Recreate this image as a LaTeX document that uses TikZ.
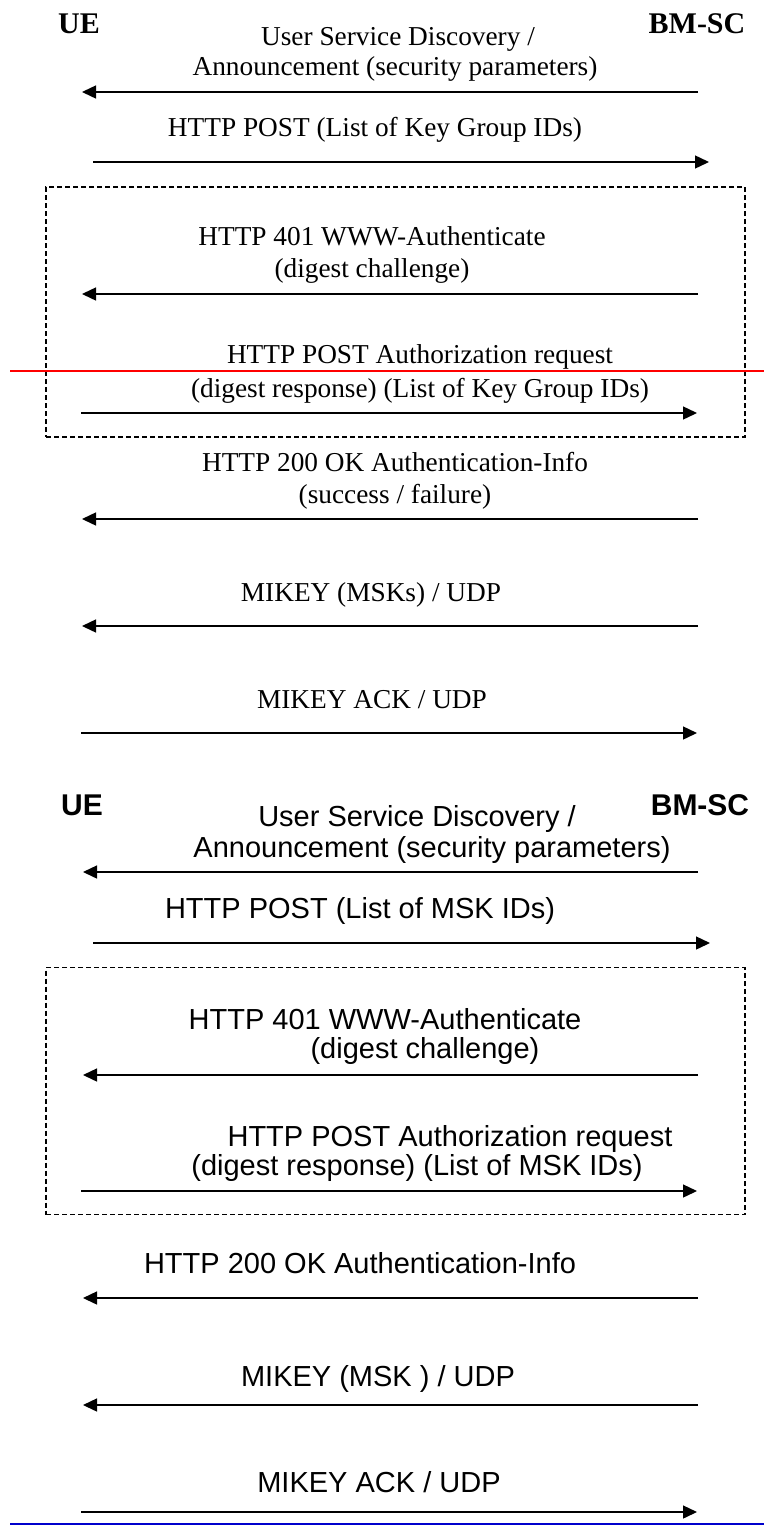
\documentclass[tikz,border=0pt]{standalone}
\usepackage{fontspec}
\setmainfont{Liberation Serif}
\newfontfamily\arialf{Liberation Sans}
\usetikzlibrary{arrows.meta}
\begin{document}
\begin{tikzpicture}[x=1pt,y=-1pt,
  msg/.style={line width=1.4pt,-{Triangle[length=14pt,width=13pt]}},
  serifl/.style={anchor=base,inner sep=0pt,font=\fontsize{27.3}{32}\selectfont},
  sansl/.style={anchor=base,inner sep=0pt,font=\arialf\fontsize{29}{34}\selectfont},
  serifh/.style={anchor=base,inner sep=0pt,font=\bfseries\fontsize{30}{34}\selectfont},
  sansh/.style={anchor=base,inner sep=0pt,font=\arialf\bfseries\fontsize{30}{34}\selectfont},
  grp/.style={draw,line width=1.4pt,dash pattern=on 5pt off 3pt,inner sep=0pt,minimum width=699pt},
  mark line/.style={line width=1.6pt}]
\useasboundingbox (0,0) rectangle (764,1526);

% ---------- top (serif) ----------
\node[serifh] (ue1) at (79,33) {UE};
\node[serifh] (bm1) at (697,33) {BM-SC};
\node[serifl] (t1a) at (398,45) {User Service Discovery /};
\node[serifl] (t1b) at (395,75) {Announcement (security parameters)};
\coordinate (a1s) at (698,92); \coordinate (a1e) at (82,92);
\draw[msg] (a1s) -- (a1e);
\node[serifl] (t2) at (375,136) {HTTP POST (List of Key Group IDs)};
\coordinate (a2s) at (93,162); \coordinate (a2e) at (709,162);
\draw[msg] (a2s) -- (a2e);
\node[grp,minimum height=250pt] (box1) at (395.5,312) {};
\node[serifl] (t3a) at (372,245) {HTTP 401 WWW-Authenticate};
\node[serifl] (t3b) at (372,277) {(digest challenge)};
\coordinate (a3s) at (698,294); \coordinate (a3e) at (82,294);
\draw[msg] (a3s) -- (a3e);
\node[serifl] (t4a) at (420,363) {HTTP POST Authorization request};
\node[serifl] (t4b) at (420,397) {(digest response) (List of Key Group IDs)};
\coordinate (a4s) at (81,413); \coordinate (a4e) at (697,413);
\draw[msg] (a4s) -- (a4e);
\node[serifl] (t5a) at (395,471) {HTTP 200 OK Authentication-Info};
\node[serifl] (t5b) at (395,503) {(success / failure)};
\coordinate (a5s) at (698,519); \coordinate (a5e) at (82,519);
\draw[msg] (a5s) -- (a5e);
\node[serifl] (t6) at (371,601) {MIKEY (MSKs) / UDP};
\coordinate (a6s) at (698,626); \coordinate (a6e) at (82,626);
\draw[msg] (a6s) -- (a6e);
\node[serifl] (t7) at (372,708) {MIKEY ACK / UDP};
\coordinate (a7s) at (81,733); \coordinate (a7e) at (697,733);
\draw[msg] (a7s) -- (a7e);

% red marker line
\coordinate (r1) at (10,371); \coordinate (r2) at (764,371);
\draw[mark line,red] (r1) -- (r2);

% ---------- bottom (sans) ----------
\node[sansh] (ue2) at (82,815) {UE};
\node[sansh] (bm2) at (700,815) {BM-SC};
\node[sansl] (s1a) at (417,826) {User Service Discovery /};
\node[sansl] (s1b) at (432,857) {Announcement (security parameters)};
\coordinate (b1s) at (698,872); \coordinate (b1e) at (83,872);
\draw[msg] (b1s) -- (b1e);
\node[sansl] (s2) at (360,918) {HTTP POST (List of MSK IDs)};
\coordinate (b2s) at (93,943); \coordinate (b2e) at (710,943);
\draw[msg] (b2s) -- (b2e);
\node[grp,minimum height=247pt] (box2) at (395.5,1091) {};
\node[sansl] (s3a) at (385,1029) {HTTP 401 WWW-Authenticate};
\node[sansl] (s3b) at (425,1058) {(digest challenge)};
\coordinate (b3s) at (698,1075); \coordinate (b3e) at (83,1075);
\draw[msg] (b3s) -- (b3e);
\node[sansl] (s4a) at (450,1146) {HTTP POST Authorization request};
\node[sansl] (s4b) at (417,1175) {(digest response) (List of MSK IDs)};
\coordinate (b4s) at (81,1191); \coordinate (b4e) at (697,1191);
\draw[msg] (b4s) -- (b4e);
\node[sansl] (s5) at (360,1273) {HTTP 200 OK Authentication-Info};
\coordinate (b5s) at (698,1298); \coordinate (b5e) at (83,1298);
\draw[msg] (b5s) -- (b5e);
\node[sansl] (s6) at (378,1386) {MIKEY (MSK ) / UDP};
\coordinate (b6s) at (698,1405); \coordinate (b6e) at (83,1405);
\draw[msg] (b6s) -- (b6e);
\node[sansl] (s7) at (379,1492) {MIKEY ACK / UDP};
\coordinate (b7s) at (81,1512); \coordinate (b7e) at (697,1512);
\draw[msg] (b7s) -- (b7e);

% blue marker line
\coordinate (u1) at (10,1524); \coordinate (u2) at (764,1524);
\draw[line width=1.4pt,blue!80!black] (u1) -- (u2);
\end{tikzpicture}
\end{document}
